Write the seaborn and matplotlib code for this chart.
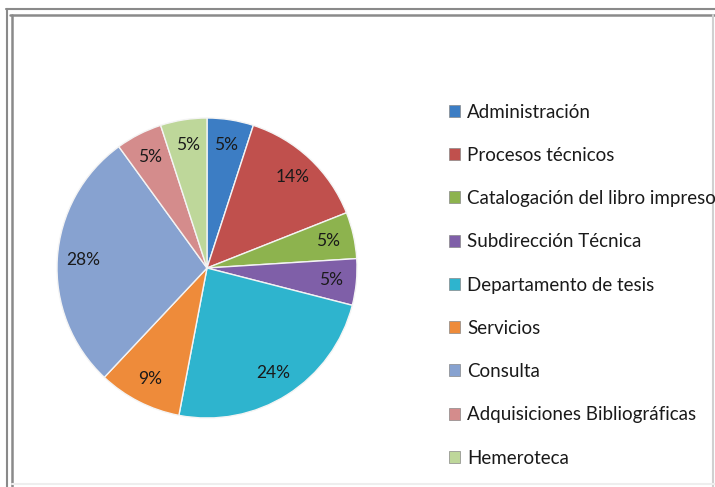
import matplotlib
matplotlib.use("Agg")
import matplotlib.pyplot as plt
import seaborn as sns
from matplotlib.patches import Patch
from matplotlib.lines import Line2D

sns.set_style("white")
plt.rcParams['font.family'] = ['Lato', 'DejaVu Sans']

categories = ["Administración", "Procesos técnicos", "Catalogación del libro impreso",
              "Subdirección Técnica", "Departamento de tesis", "Servicios", "Consulta",
              "Adquisiciones Bibliográficas", "Hemeroteca"]
values = [5, 14, 5, 5, 24, 9, 28, 5, 5]
colors = ["#3C7DC4", "#C0504D", "#8DB34E", "#7F5FA8", "#2EB4CE", "#EE8B3A",
          "#87A2D0", "#D48C8C", "#BED79A"]

W, H = 715, 487
fig = plt.figure(figsize=(W / 100, H / 100), dpi=100)
fig.patch.set_facecolor("white")

cx, cy, r = 207, 268, 150
ax = fig.add_axes([(cx - r) / W, (H - cy - r) / H, 2 * r / W, 2 * r / H])
wedges, texts, autotexts = ax.pie(
    values, colors=colors, startangle=90, counterclock=False,
    autopct=lambda p: f"{p:.0f}%", pctdistance=0.83,
    wedgeprops=dict(edgecolor="#f4f4f4", linewidth=1.0),
    textprops=dict(fontsize=12.5, color="#1a1a1a"))
ax.set_xlim(-1.0, 1.0)
ax.set_ylim(-1.0, 1.0)
ax.set_aspect("equal")
ax.axis("off")

handles = [Patch(facecolor=c, edgecolor="#888888", linewidth=0.5) for c in colors]
leg = fig.legend(handles, categories, loc="upper left",
                 bbox_to_anchor=(441 / W, 1 - 96 / H), frameon=False,
                 fontsize=13.5, handlelength=0.6, handleheight=0.6,
                 handletextpad=0.4, labelspacing=1.40, borderaxespad=0)
for t in leg.get_texts():
    t.set_color("#1a1a1a")

def hline(y, x0, x1, c, lw):
    fig.add_artist(Line2D([x0 / W, x1 / W], [1 - y / H, 1 - y / H], color=c, lw=lw))

def vline(x, y0, y1, c, lw):
    fig.add_artist(Line2D([x / W, x / W], [1 - y0 / H, 1 - y1 / H], color=c, lw=lw))

hline(9, 6, W, "#8a8a8a", 1.5)
vline(7, 9, H, "#8a8a8a", 1.5)
hline(15, 10, W, "#8a8a8a", 1.8)
vline(12, 15, H, "#8a8a8a", 1.8)
vline(713, 15, H, "#d0d0d0", 1.5)
hline(484, 12, W, "#eeeeee", 1.5)

fig.savefig("out.png", dpi=100, facecolor="white")
